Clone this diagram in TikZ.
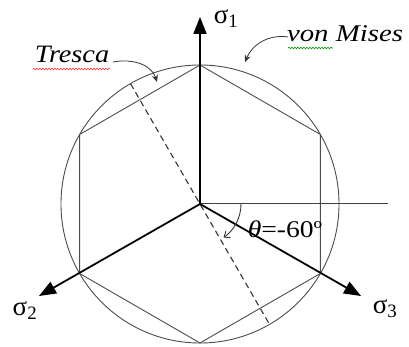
\documentclass[tikz,border=0pt]{standalone}
\usepackage{fontspec}
\setmainfont{Liberation Serif}
\usetikzlibrary{arrows.meta,decorations.pathmorphing}
\begin{document}
\begin{tikzpicture}[x=1pt,y=1pt,yscale=-1,
  thin gray/.style={draw=black!70,line width=0.9pt},
  axis/.style={draw=black,line width=1.8pt,-{Triangle[length=17pt,width=13pt]}},
  lbl/.style={inner sep=0pt,font=\fontsize{27}{27}\selectfont},
  ital/.style={inner sep=0pt,font=\fontsize{25}{25}\selectfont\itshape},
  callout/.style={draw=black!80,line width=0.8pt,-{Stealth[length=7pt,width=6pt]}}]
\useasboundingbox (0,0) rectangle (409,347);
\coordinate (C) at (200,204);
% von Mises circle
\draw[thin gray] (C) circle[radius=139];
% Tresca hexagon
\coordinate (H1) at (200,65);
\coordinate (H2) at (320.4,134.5);
\coordinate (H3) at (320.4,273.5);
\coordinate (H4) at (200,343);
\coordinate (H5) at (79.6,273.5);
\coordinate (H6) at (79.6,134.5);
\draw[thin gray] (H1) -- (H2) -- (H3) -- (H4) -- (H5) -- (H6) -- cycle;
% dashed line
\coordinate (D1) at (130.5,83.6);
\coordinate (D2) at (269.5,324.4);
\draw[black!80,line width=1.1pt,dash pattern=on 6pt off 4pt] (D1) -- (D2);
% horizontal reference
\coordinate (R) at (388,204);
\draw[black!75,line width=1pt] (C) -- (R);
% axes
\coordinate (A1) at (200,17);
\coordinate (A2) at (39,296);
\coordinate (A3) at (361,296);
\draw[axis] (C) -- (A1);
\draw[axis] (C) -- (A2);
\draw[axis] (C) -- (A3);
% angle arc
\draw[black!80,line width=0.9pt,-{Straight Barb[length=5pt,width=8pt]}] ([shift={(0:41)}]C) arc[start angle=0,end angle=55,radius=41];
% labels
\node[lbl] (s1) at (226,19) {σ\textsubscript{1}};
\node[lbl] (s2) at (25,311) {σ\textsubscript{2}};
\node[lbl] (s3) at (385,309) {σ\textsubscript{3}};
\node[inner sep=0pt,font=\fontsize{24}{24}\selectfont] (th) at (285,229) {\scalebox{1.15}[1]{\itshape θ\upshape=-60º}};
\node[ital,anchor=base] (tr) at (72,63) {\scalebox{1.13}[1]{Tresca}};
\node[ital,anchor=base,font=\fontsize{24}{24}\selectfont\itshape] (vm) at (345,42) {\scalebox{1.2}[1]{von Mises}};
% spell-check squiggles
\draw[red!80,line width=0.6pt,decorate,decoration={snake,amplitude=0.8pt,segment length=3pt}] (33,69) -- (110,69);
\draw[green!60!black,line width=0.6pt,decorate,decoration={snake,amplitude=0.8pt,segment length=3pt}] (288,48) -- (333,48);
% callout arrows
\coordinate (t0) at (113,62);
\coordinate (t1) at (157,82);
\draw[callout] (t0) .. controls (135,58) and (152,66) .. (t1);
\coordinate (v0) at (288,37);
\coordinate (v1) at (245,62);
\draw[callout] (v0) .. controls (268,34) and (252,45) .. (v1);
\end{tikzpicture}
\end{document}
